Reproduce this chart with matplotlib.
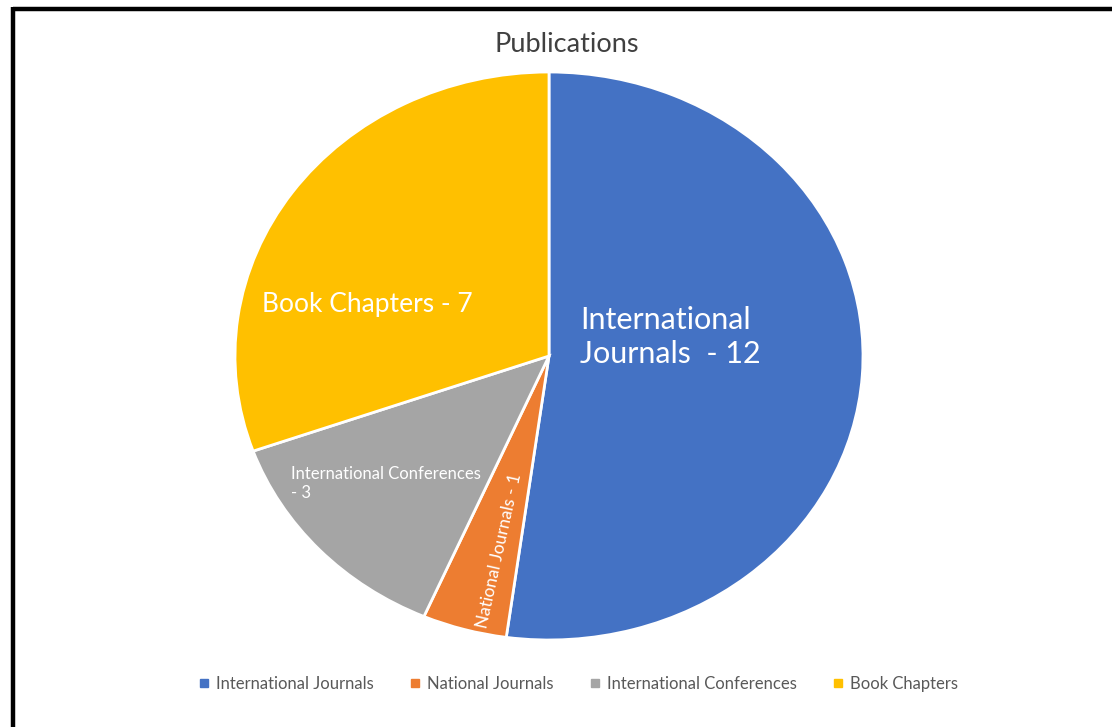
import matplotlib
matplotlib.use("Agg")
import matplotlib.pyplot as plt
from matplotlib.lines import Line2D

categories = ["International Journals", "National Journals", "International Conferences", "Book Chapters"]
values = [12, 1, 3, 7]
colors = ["#4472C4", "#ED7D31", "#A5A5A5", "#FFC000"]
slice_labels = ["International\nJournals  - 12", "National Journals - 1", "International Conferences\n- 3", "Book Chapters - 7"]
title = "Publications"

FONT = ["Lato", "DejaVu Sans"]
plt.rcParams['font.family'] = FONT

W, H = 1112, 727
fig = plt.figure(figsize=(W / 100, H / 100), dpi=100)

# pie axes: ellipse stretched horizontally
cx, cy, rx, ry = 549, 356, 314, 284
ax = fig.add_axes([(cx - rx) / W, 1 - (cy + ry) / H, 2 * rx / W, 2 * ry / H])
wedges, _ = ax.pie(values, colors=colors, startangle=90, counterclock=False,
                   wedgeprops=dict(edgecolor="white", linewidth=2))
ax.set_aspect('auto')
ax.set_xlim(-1, 1)
ax.set_ylim(-1, 1)
ax.axis('off')

# slice labels
ax.text(0.099, 0.067, slice_labels[0], color="white", fontsize=22, ha="left", va="center",
        linespacing=1.25)
ax.text(-0.914, 0.18, slice_labels[3], color="white", fontsize=19, ha="left", va="center")
ax.text(-0.822, -0.45, slice_labels[2], color="white", fontsize=12, ha="left", va="center",
        linespacing=1.25)
ax.text(-0.159, -0.686, slice_labels[1], color="white", fontsize=12.5, ha="center", va="center",
        rotation=77.5, rotation_mode="anchor")

# title
fig.text(567 / W, 1 - 45 / H, title, ha="center", va="center", fontsize=19.5, color="#404040")

# legend
handles = [Line2D([], [], marker='s', linestyle='none', markersize=6, color=c) for c in colors]
fig.legend(handles, categories, loc="center", bbox_to_anchor=(577 / W, 1 - 684 / H), ncol=4,
           frameon=False, fontsize=12, labelcolor="#595959", handletextpad=0.2,
           columnspacing=2.0, handlelength=1.0)

# frame lines (top and left)
fig.add_artist(Line2D([12.5 / W, 1], [1 - 8.5 / H, 1 - 8.5 / H], color="black", linewidth=3.2,
                      transform=fig.transFigure, solid_capstyle="butt"))
fig.add_artist(Line2D([12.5 / W, 12.5 / W], [0, 1 - 7 / H], color="black", linewidth=3.2,
                      transform=fig.transFigure, solid_capstyle="butt"))

fig.savefig("out.png", dpi=100, facecolor="white")
